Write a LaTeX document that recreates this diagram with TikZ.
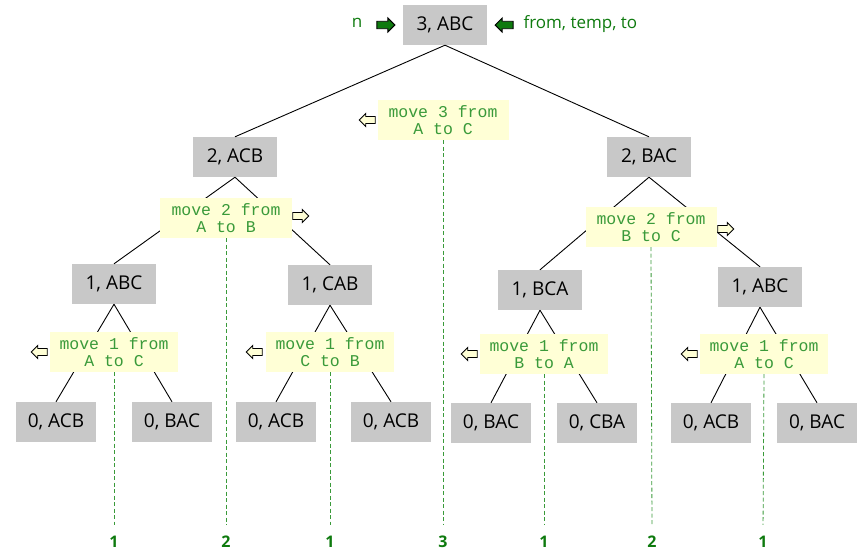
\documentclass[tikz,border=0pt]{standalone}
\usepackage{fontspec}
\setmainfont{Open Sans}
\newfontfamily\movefont{Liberation Mono}
\usetikzlibrary{shapes.arrows}
\definecolor{callgray}{HTML}{C8C8C8}
\definecolor{movefill}{HTML}{FFFFD6}
\definecolor{movegreen}{HTML}{3A9A3A}
\definecolor{darkgreen}{HTML}{0E7A0E}
\tikzset{
  call/.style={fill=callgray, minimum width=84pt, minimum height=40pt, inner sep=0pt, font=\fontsize{19}{22}\selectfont},
  move/.style={fill=movefill, text=movegreen, align=center, minimum height=40pt, inner sep=0pt, font=\movefont\fontsize{16.5}{16.5}\selectfont},
  hollow/.style={shape=single arrow, draw, fill=movefill, line width=0.9pt, minimum height=16pt, minimum width=13pt, single arrow head extend=3pt, inner sep=3pt},
  solid arrow/.style={shape=single arrow, draw, fill=darkgreen, line width=0.9pt, minimum height=18pt, minimum width=14pt, single arrow head extend=3pt, inner sep=3pt},
  count/.style={text=darkgreen, font=\fontsize{16}{18}\selectfont\bfseries},
  trace/.style={movegreen, dash pattern=on 4pt off 2.5pt, line width=0.8pt}
}
\begin{document}
\begin{tikzpicture}[x=1pt, y=-1pt]
  \useasboundingbox (0,0) rectangle (864,550);

  % calls
  \node[call] (root) at (445,25) {3, ABC};
  \node[call] (acb2) at (235,157) {2, ACB};
  \node[call] (bac2) at (649,157) {2, BAC};
  \node[call] (abc1) at (114,284) {1, ABC};
  \node[call] (cab1) at (330,285) {1, CAB};
  \node[call] (bca1) at (540,290) {1, BCA};
  \node[call] (abc1r) at (760,287) {1, ABC};
  \node[call, minimum width=80pt] (leaf1) at (56,422) {0, ACB};
  \node[call, minimum width=80pt] (leaf2) at (172,422) {0, BAC};
  \node[call, minimum width=80pt] (leaf3) at (276,422) {0, ACB};
  \node[call, minimum width=80pt] (leaf4) at (391,422) {0, ACB};
  \node[call, minimum width=80pt] (leaf5) at (491,423) {0, BAC};
  \node[call, minimum width=80pt] (leaf6) at (597,423) {0, CBA};
  \node[call, minimum width=80pt] (leaf7) at (711,423) {0, ACB};
  \node[call, minimum width=80pt] (leaf8) at (817,423) {0, BAC};

  % arguments
  \node[text=darkgreen, font=\fontsize{17}{19}\selectfont] (argn) at (357,23) {n};
  \node[solid arrow] (argnarrow) at (384,25) {};
  \node[solid arrow, shape border rotate=180] (argsarrow) at (506,25) {};
  \node[text=darkgreen, font=\fontsize{17}{19}\selectfont, anchor=west] (args) at (520,24) {from, temp, to};

  % tree
  \draw[line width=0.9pt] (root.south) -- (acb2.north);
  \draw[line width=0.9pt] (root.south) -- (bac2.north);
  \draw[line width=0.9pt] (acb2.south) -- (abc1.north);
  \draw[line width=0.9pt] (acb2.south) -- (cab1.north);
  \draw[line width=0.9pt] (bac2.south) -- (bca1.north);
  \draw[line width=0.9pt] (bac2.south) -- (abc1r.north);
  \draw[line width=0.9pt] (abc1.south) -- (leaf1.north);
  \draw[line width=0.9pt] (abc1.south) -- (leaf2.north);
  \draw[line width=0.9pt] (cab1.south) -- (leaf3.north);
  \draw[line width=0.9pt] (cab1.south) -- (leaf4.north);
  \draw[line width=0.9pt] (bca1.south) -- (leaf5.north);
  \draw[line width=0.9pt] (bca1.south) -- (leaf6.north);
  \draw[line width=0.9pt] (abc1r.south) -- (leaf7.north);
  \draw[line width=0.9pt] (abc1r.south) -- (leaf8.north);

  % moves
  \node[move, minimum width=131pt] (mv3) at (443,120) {move 3 from\\A to C};
  \node[move, minimum width=132pt] (mv2a) at (226,218) {move 2 from\\A to B};
  \node[move, minimum width=131pt] (mv2b) at (651,227) {move 2 from\\B to C};
  \node[move, minimum width=128pt] (mv1a) at (114,352) {move 1 from\\A to C};
  \node[move, minimum width=128pt] (mv1b) at (330,352) {move 1 from\\C to B};
  \node[move, minimum width=128pt] (mv1c) at (544,354) {move 1 from\\B to A};
  \node[move, minimum width=128pt] (mv1d) at (764,354) {move 1 from\\A to C};

  \node[hollow, shape border rotate=180] (dir3) at (369,120) {};
  \node[hollow] (dir2a) at (299,216) {};
  \node[hollow] (dir2b) at (724,229) {};
  \node[hollow, shape border rotate=180] (dir1a) at (41,352) {};
  \node[hollow, shape border rotate=180] (dir1b) at (256,352) {};
  \node[hollow, shape border rotate=180] (dir1c) at (471,354) {};
  \node[hollow, shape border rotate=180] (dir1d) at (691,354) {};

  % move order
  \node[count] (cnt1) at (114,542) {1};
  \node[count] (cnt2) at (226,542) {2};
  \node[count] (cnt3) at (330,542) {1};
  \node[count] (cnt4) at (443,542) {3};
  \node[count] (cnt5) at (544,542) {1};
  \node[count] (cnt6) at (652,542) {2};
  \node[count] (cnt7) at (763,542) {1};

  \draw[trace, shorten >=8pt] (mv1a.south) -- (cnt1.north);
  \draw[trace, shorten >=8pt] (mv2a.south) -- (cnt2.north);
  \draw[trace, shorten >=8pt] (mv1b.south) -- (cnt3.north);
  \draw[trace, shorten >=8pt] (mv3.south) -- (cnt4.north);
  \draw[trace, shorten >=8pt] (mv1c.south) -- (cnt5.north);
  \draw[trace, shorten >=8pt] (mv2b.south) -- (cnt6.north);
  \draw[trace, shorten >=8pt] (mv1d.south) -- (cnt7.north);
\end{tikzpicture}
\end{document}
